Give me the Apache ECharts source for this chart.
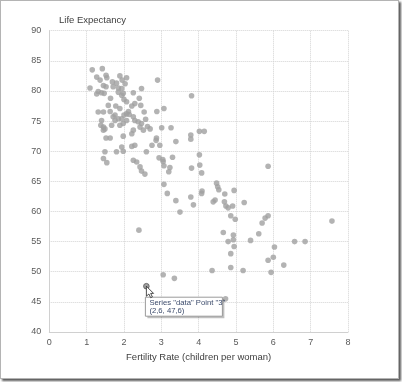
<!DOCTYPE html>
<html><head><meta charset="utf-8">
<script src="https://cdn.jsdelivr.net/npm/echarts@6/dist/echarts.min.js"></script>
<style>
html,body{margin:0;padding:0;background:#fff;}
#c{position:absolute;left:0;top:0;width:402px;height:382px;}
#f{position:absolute;left:0;top:0;width:397px;height:377px;border:1px solid #b4b4b4;box-shadow:2px 2px 2px rgba(0,0,0,0.65);pointer-events:none;}
</style>
</head><body><div id="c"></div><div id="f"></div>
<script>
const fertility = [
1.15,1.42,1.27,1.52,1.54,1.36,1.89,2.07,1.09,1.31,1.45,1.52,1.47,1.40,1.27,1.69,1.80,1.95,2.03,1.71,1.85,1.94,1.85,1.98,2.25,2.47,1.64,1.94,2.00,2.41,2.07,2.29,2.21,2.45,1.58,1.78,1.89,2.12,2.07,2.14,1.31,1.45,1.63,1.76,2.88,2.54,2.90,
1.40,1.38,1.45,1.49,1.67,1.71,1.76,1.85,1.94,2.00,1.89,1.98,2.07,2.25,2.29,2.38,2.47,2.43,2.25,2.21,2.52,2.63,2.70,2.58,2.75,1.52,1.63,1.98,2.21,2.29,1.94,1.49,1.80,1.98,2.60,1.45,1.54,2.25,2.34,2.43,2.47,2.56,1.45,
3.81,3.07,3.01,3.26,3.39,3.79,3.79,4.02,4.15,2.96,2.94,3.04,3.05,3.30,3.07,3.23,3.20,4.02,3.81,4.03,4.08,3.07,3.16,3.39,3.79,3.86,4.09,4.08,4.48,4.51,4.54,4.70,4.95,4.44,4.39,4.69,4.73,4.79,4.91,5.22,3.50,2.87,2.86,
5.86,4.86,4.98,5.86,5.78,5.70,5.61,5.39,4.66,4.93,4.79,4.93,4.95,4.86,6.03,6.00,5.86,6.28,6.57,6.85,7.57,4.86,4.36,5.19,5.94,2.40,3.05,3.35,2.6,4.72
];
const lifeExpectancy = [
83.5,83.7,82.3,82.6,82.2,81.8,82.5,82.2,80.5,79.9,80.9,80.7,79.6,79.7,79.5,81.5,81.3,81.8,81.2,80.7,80.5,80.4,79.8,79.6,79.7,80.4,78.8,79.3,78.6,78.8,78.2,77.9,77.5,77.6,77.6,77.5,77.1,76.6,76.2,76.1,76.5,76.5,76.6,76.0,76.6,76.5,81.8,
75.1,74.3,74.0,73.7,74.3,75.7,75.1,75.4,75.4,76.0,74.3,74.6,75.1,75.7,75.1,74.9,74.6,74.0,73.5,72.9,73.5,74.1,73.7,75.3,71.0,72.2,72.2,72.5,70.8,71.0,70.7,69.9,69.9,70.0,69.9,68.8,68.1,68.5,68.2,67.4,66.7,66.2,73.5,
79.2,77.1,73.9,73.9,71.6,72.7,72.0,73.3,73.3,71.0,68.9,68.6,68.3,69.0,67.6,67.3,66.6,69.4,67.2,67.7,66.4,64.5,63.0,61.8,62.4,61.1,63.4,63.0,64.7,64.1,63.6,62.9,63.5,61.9,61.6,61.6,60.9,60.6,60.9,61.5,59.9,72.2,71.8,
67.5,59.3,58.7,59.3,58.9,58.1,56.3,55.2,56.5,56.1,55.0,55.3,54.2,53.0,54.1,52.4,51.9,51.1,55.0,55.0,58.4,50.7,50.2,50.2,49.9,56.9,49.5,48.9,47.6,45.5
];
const xTickValues = [0,1,2,3,4,5,6,7,8];
const yTickValues = [40,45,50,55,60,65,70,75,80,85,90];
const seriesName = 'data';
const hoverPoint = [2.6, 47.6];
const hoverLabel = ['Series "data" Point "3"', '(2,6, 47,6)'];

const FONT = "'Liberation Sans Narrow','Liberation Sans',Arial,sans-serif";
const points = fertility.map((x, i) => [x, lifeExpectancy[i]]);

const chart = echarts.init(document.getElementById('c'), null, {renderer: 'canvas'});
chart.setOption({
  animation: false,
  backgroundColor: '#fff',
  title: {text: 'Life Expectancy', left: 54, top: 10, textStyle: {fontFamily: FONT, fontSize: 9.5, fontWeight: 'normal', color: '#404040'}},
  grid: {left: 49.3, right: 54, top: 30.7, bottom: 50, containLabel: false},
  xAxis: {
    type: 'value', min: xTickValues[0], max: xTickValues[xTickValues.length-1], interval: 1,
    name: 'Fertility Rate (children per woman)', nameLocation: 'middle', nameGap: 18,
    nameTextStyle: {fontFamily: FONT, fontSize: 9.5, color: '#404040'},
    axisLine: {show: true, lineStyle: {color: '#d0d0d0', width: 1}},
    axisTick: {show: false},
    axisLabel: {fontFamily: FONT, fontSize: 9, color: '#595959', margin: 6},
    splitLine: {show: true, lineStyle: {color: '#d3d3d3', type: 'dotted', width: 1}}
  },
  yAxis: {
    type: 'value', min: yTickValues[0], max: yTickValues[yTickValues.length-1], interval: 5,
    axisLine: {show: true, lineStyle: {color: '#d0d0d0', width: 1}},
    axisTick: {show: false},
    axisLabel: {fontFamily: FONT, fontSize: 9, color: '#595959', margin: 8},
    splitLine: {show: true, lineStyle: {color: '#d3d3d3', type: 'dotted', width: 1}}
  },
  series: [{
    name: seriesName, type: 'scatter', symbolSize: 5.6,
    itemStyle: {color: '#a0a0a0'},
    data: points.map(p => (p[0] === hoverPoint[0] && p[1] === hoverPoint[1]) ?
      {value: p, itemStyle: {color: '#8a8a8a', borderColor: '#555', borderWidth: 1}} : p)
  }]
});

const pp = chart.convertToPixel({seriesIndex: 0}, hoverPoint);
const bx = pp[0] - 1, by = pp[1] + 11;
chart.setOption({
  graphic: [
    {type: 'rect', z: 100, shape: {x: bx + 2, y: by + 2, width: 77, height: 19}, style: {fill: 'rgba(0,0,0,0.25)'}},
    {type: 'rect', z: 101, shape: {x: bx, y: by, width: 77, height: 19}, style: {fill: '#fff', stroke: '#9a9a9a', lineWidth: 1}},
    {type: 'text', z: 102, x: bx + 4, y: by + 1.2, style: {text: hoverLabel[0], font: "7.7px " + FONT, fill: '#3b4a6b'}},
    {type: 'text', z: 102, x: bx + 4, y: by + 9.6, style: {text: hoverLabel[1], font: "7.7px " + FONT, fill: '#3b4a6b'}},
    {type: 'polygon', z: 103, x: pp[0], y: pp[1], shape: {points: [[0,0],[0,10],[2.5,7.8],[4.3,11.5],[6,10.7],[4.3,7.2],[7.2,7.2]]}, style: {fill: '#fff', stroke: '#222', lineWidth: 0.8}}
  ]
});
</script>
</body></html>
